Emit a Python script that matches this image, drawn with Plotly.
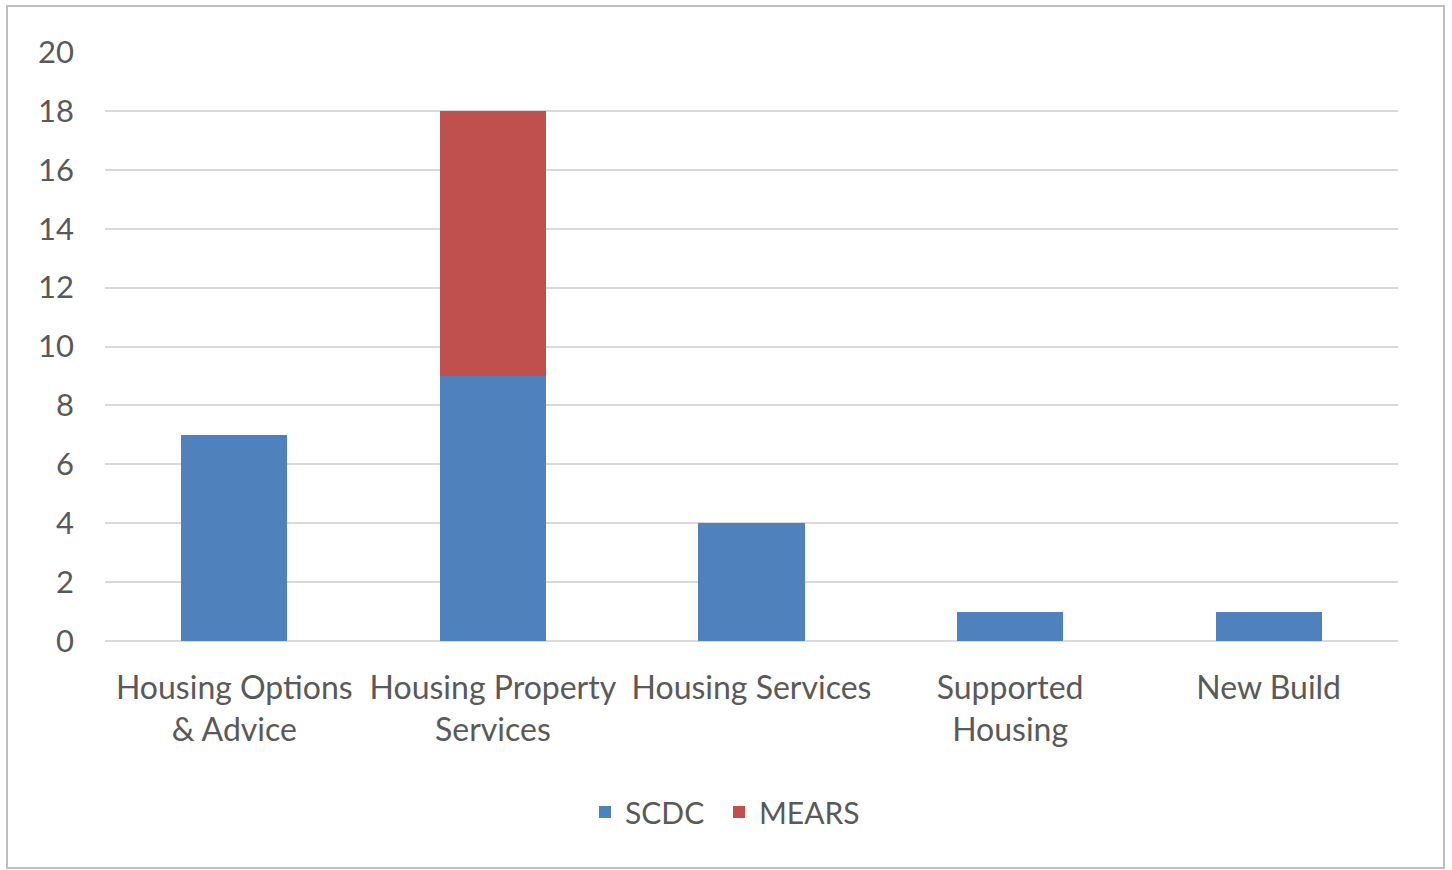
import plotly.graph_objects as go

categories = ["Housing Options<br>& Advice", "Housing Property<br>Services", "Housing Services",
              "Supported<br>Housing", "New Build"]
scdc = [7, 9, 4, 1, 1]
mears = [0, 9, 0, 0, 0]
y_ticks = [0, 2, 4, 6, 8, 10, 12, 14, 16, 18, 20]

W, H = 1452, 870
L, R, T, B = 105, 54, 52, 229
pw, ph = W - L - R, H - T - B

def px(x):
    return (x - L) / pw

def py(y):
    return (H - B - y) / ph

fig = go.Figure()
fig.add_trace(go.Bar(name="SCDC", x=categories, y=scdc, marker=dict(color="#4F81BD", line_width=0),
                     legend="legend"))
fig.add_trace(go.Bar(name="MEARS", x=categories, y=mears, marker=dict(color="#C0504D", line_width=0),
                     legend="legend2"))

font = "Lato, 'Open Sans', sans-serif"
fs = 30
leg_common = dict(orientation="h", xanchor="left", y=py(812), yanchor="middle",
                  font=dict(size=fs, color="#595959"), itemwidth=30, bgcolor="rgba(0,0,0,0)")
fig.update_layout(
    barmode="stack",
    bargap=0.59,
    width=W, height=H,
    margin=dict(l=L, r=R, t=T, b=B, autoexpand=False),
    paper_bgcolor="white", plot_bgcolor="white",
    font=dict(family=font, size=fs, color="#595959"),
    showlegend=True,
    legend=dict(x=px(585), **leg_common),
    legend2=dict(x=px(719), **leg_common),
    xaxis=dict(showgrid=False, showline=False, ticks="", tickfont=dict(size=32), ticklabelstandoff=25),
    yaxis=dict(range=[0, 20], tickvals=y_ticks, showgrid=True, gridcolor="#D9D9D9", gridwidth=2,
               zeroline=True, zerolinecolor="#D9D9D9", zerolinewidth=2, showline=False,
               ticks="", tickfont=dict(size=31), ticklabelstandoff=30),
    shapes=[dict(type="rect", xref="paper", yref="paper",
                 x0=px(7), x1=px(1444), y0=py(868), y1=py(6),
                 line=dict(color="#BFBFBF", width=2), fillcolor="rgba(0,0,0,0)", layer="below")],
)
fig.write_html("out.html")
